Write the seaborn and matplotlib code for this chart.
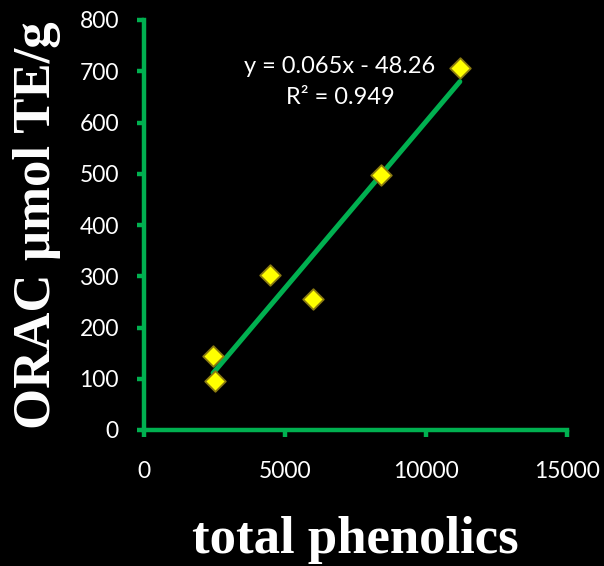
import matplotlib
matplotlib.use("Agg")
import matplotlib.pyplot as plt
import seaborn as sns
import numpy as np
import pandas as pd

# Data
total_phenolics = [2450, 2500, 4480, 5980, 8400, 11200]
orac = [145, 95, 302, 256, 498, 706]
slope = 0.065
intercept = -48.26
r_squared = 0.949
x_ticks = [0, 5000, 10000, 15000]
y_ticks = [0, 100, 200, 300, 400, 500, 600, 700, 800]

green = "#00B050"

sns.set_theme(style="white")
plt.rcParams['font.family'] = ['Lato', 'DejaVu Sans']

fig = plt.figure(figsize=(6.04, 5.66), dpi=100, facecolor="black")
ax = fig.add_axes([144/604, (566-430)/566, (567-144)/604, (430-20)/566])
ax.set_facecolor("black")

df = pd.DataFrame({"x": total_phenolics, "y": orac})
xs = np.array([min(total_phenolics), max(total_phenolics)])
line_df = pd.DataFrame({"x": xs, "y": slope * xs + intercept})

sns.lineplot(data=line_df, x="x", y="y", ax=ax, color=green, linewidth=3.6, zorder=2)
sns.scatterplot(data=df, x="x", y="y", ax=ax, marker="D", s=110, color="#FFFF00",
                edgecolor="#8A7A10", linewidth=1.3, zorder=3, clip_on=False)

ax.set_xlim(0, 15000)
ax.set_ylim(0, 800)
ax.set_xticks(x_ticks)
ax.set_yticks(y_ticks)
ax.set_xticklabels([str(t) for t in x_ticks])
ax.set_yticklabels([str(t) for t in y_ticks])

for side in ["top", "right"]:
    ax.spines[side].set_visible(False)
for side in ["left", "bottom"]:
    ax.spines[side].set_color(green)
    ax.spines[side].set_linewidth(3.2)

ax.tick_params(axis="both", which="both", direction="out", colors=green,
               length=5, width=3.2, labelcolor="white", labelsize=16.5)
ax.tick_params(axis="y", pad=13, left=True)
ax.tick_params(axis="x", pad=17, bottom=True)

ax.set_xlabel("total phenolics", fontsize=38, fontweight="bold",
              family="Liberation Serif", color="white")
ax.set_ylabel("ORAC µmol TE/g", fontsize=38, fontweight="bold",
              family="Liberation Serif", color="white")
ax.xaxis.label.set_va("center")
ax.yaxis.label.set_va("center")
ax.xaxis.set_label_coords(0.5, (430 - 540) / 410)
ax.yaxis.set_label_coords((37 - 144) / 423, 0.5)

ax.text(6950, 709, f"y = {slope}x - {abs(intercept):.2f}", color="white",
        fontsize=17, ha="center", va="center")
ax.text(6950, 649, f"R² = {r_squared}", color="white",
        fontsize=17, ha="center", va="center")

fig.savefig("out.png", dpi=100, facecolor="black")
